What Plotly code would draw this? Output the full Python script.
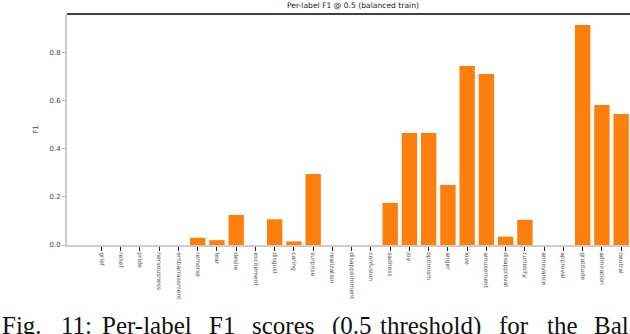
import plotly.graph_objects as go

labels = ["grief", "relief", "pride", "nervousness", "embarrassment", "remorse",
          "fear", "desire", "excitement", "disgust", "caring", "surprise",
          "realization", "disappointment", "confusion", "sadness", "joy",
          "optimism", "anger", "love", "amusement", "disapproval", "curiosity",
          "annoyance", "approval", "gratitude", "admiration", "neutral"]
f1 = [0.0, 0.0, 0.0, 0.0, 0.0, 0.03,
      0.02, 0.125, 0.0, 0.107, 0.015, 0.295,
      0.0, 0.0, 0.0, 0.175, 0.466,
      0.466, 0.25, 0.745, 0.711, 0.035, 0.105,
      0.0, 0.0, 0.915, 0.582, 0.545]

# caption below the figure (cut off at the right edge like the source)
caption_words = ["Fig.", "11:", "Per-label", "F1", "scores", "(0.5", "threshold)", "for", "the", "Bal"]
caption_px = [0, 59, 100, 207, 250, 330, 378, 497, 545, 592]

fig = go.Figure(go.Bar(x=list(range(len(labels))), y=f1,
                       marker=dict(color="#ff7f0e", line=dict(width=0)),
                       width=0.8))

fig.update_layout(
    width=630, height=334,
    margin=dict(l=67, r=0, t=14, b=89, autoexpand=False),
    plot_bgcolor="white", paper_bgcolor="white",
    font=dict(family="DejaVu Sans", color="#333333"),
    showlegend=False,
    title=dict(text="Per-label F1 @ 0.5 (balanced train)", xref="paper", x=0.508,
               xanchor="center", y=0.992, yanchor="top",
               font=dict(size=7.6, color="#222222")),
)
fig.update_xaxes(range=[-1.79, 27.46], tickmode="array",
                 tickvals=list(range(len(labels))), ticktext=labels,
                 tickangle=90, tickfont=dict(size=6, color="#555555"),
                 ticks="outside", ticklen=4, tickcolor="#222222",
                 showline=True, linecolor="#cccccc", linewidth=2,
                 showgrid=False, zeroline=False, automargin=False)
fig.update_yaxes(range=[0, 0.961], tickvals=[0, 0.2, 0.4, 0.6, 0.8],
                 ticktext=["0.0", "0.2", "0.4", "0.6", "0.8"],
                 tickfont=dict(size=7, color="#444444"),
                 ticks="outside", ticklen=3, tickcolor="#bbbbbb",
                 showline=True, linecolor="#cccccc", linewidth=2,
                 showgrid=False, zeroline=False, automargin=False,
                 title=dict(text="F1", font=dict(size=7, color="#444444"), standoff=10))
fig.add_shape(type="line", xref="paper", yref="paper", x0=0, x1=1, y0=1, y1=1,
              line=dict(color="black", width=1.5))
for w, px in zip(caption_words, caption_px):
    fig.add_annotation(text=w, xref="paper", yref="paper", x=(px - 67) / 563, y=-0.28,
                       xanchor="left", yanchor="top", showarrow=False,
                       font=dict(family="Liberation Serif", size=25, color="#111111"))

fig.write_html("out.html", config={"displayModeBar": False},
               post_script="document.body.style.margin='0';")
